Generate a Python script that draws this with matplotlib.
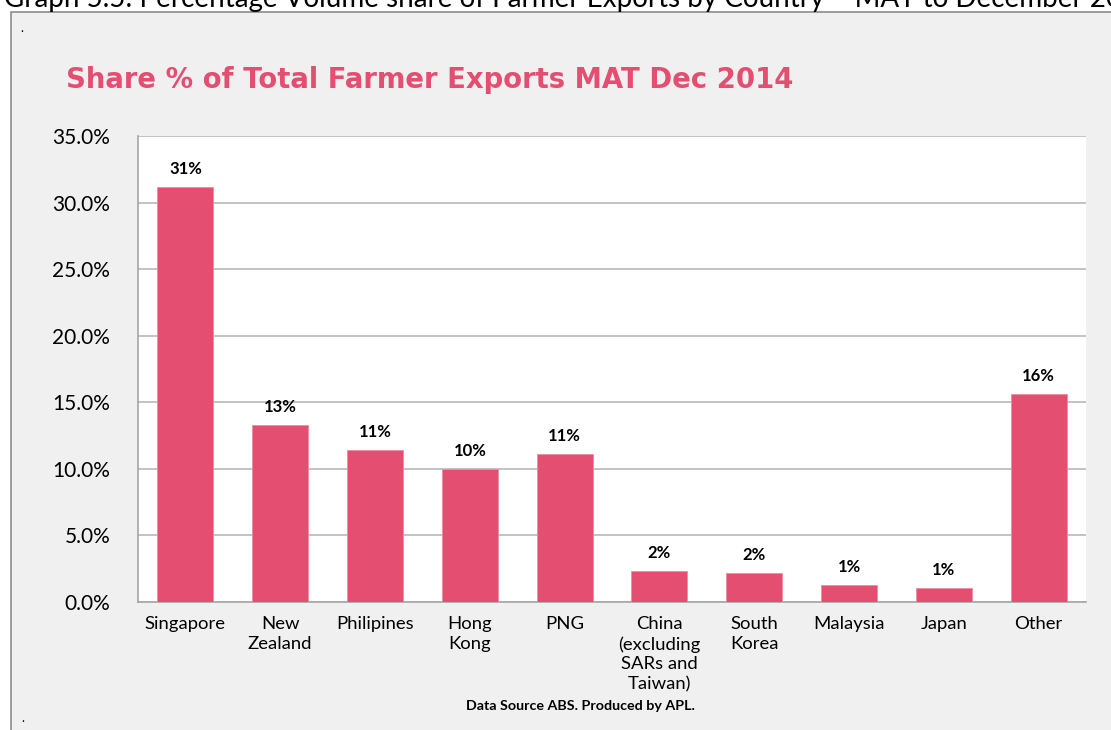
import matplotlib.pyplot as plt
from matplotlib.patches import Rectangle
from matplotlib.ticker import FuncFormatter
import numpy as np

countries = ['Singapore', 'New\nZealand', 'Philipines', 'Hong\nKong', 'PNG',
             'China\n(excluding\nSARs and\nTaiwan)', 'South\nKorea', 'Malaysia', 'Japan', 'Other']
share = [31.2, 13.3, 11.4, 10.0, 11.1, 2.35, 2.2, 1.3, 1.05, 15.6]
labels = ['31%', '13%', '11%', '10%', '11%', '2%', '2%', '1%', '1%', '16%']
yticks = [0, 5, 10, 15, 20, 25, 30, 35]

pink = '#e34e71'
plt.rcParams['font.family'] = ['Lato', 'DejaVu Sans']

fig = plt.figure(figsize=(11.11, 7.3), dpi=100)
fig.patch.set_facecolor('white')

# grey panel with border (runs past the right and bottom edges)
fig.patches.append(Rectangle((11 / 1111, -0.05), 1.2, 1 - 12 / 730 + 0.05,
                             transform=fig.transFigure, facecolor='#f0f0f0',
                             edgecolor='#8c8c8c', linewidth=1.2, zorder=-5))

# caption, cut off at the top of the screenshot
fig.text(0.004, 1 - 7 / 730,
         'Graph 5.5: Percentage Volume share of Farmer Exports by Country \u2013 MAT to December 2014',
         fontsize=20, va='baseline', ha='left', color='black')
fig.text(20 / 1111, 1 - 32 / 730, '.', fontsize=9)
fig.text(21 / 1111, 1 - 722 / 730, '.', fontsize=9)

ax = fig.add_axes([138 / 1111, 1 - 602 / 730, (1086 - 138) / 1111, (602 - 136) / 730])
ax.set_zorder(2)
ax.set_facecolor('white')

x = np.arange(len(countries))
ax.bar(x, share, width=0.59, color=pink, edgecolor='#f08aa0', linewidth=0.6, zorder=3)

for xi, v, lab in zip(x, share, labels):
    ax.text(xi, v + 0.75, lab, ha='center', va='bottom', fontsize=12,
            fontweight='bold', color='black')

ax.set_xlim(-0.5, len(countries) - 0.5)
ax.set_ylim(0, 35)
ax.set_yticks(yticks)
ax.yaxis.set_major_formatter(FuncFormatter(lambda v, p: f'{v:.1f}%'))
ax.set_xticks(x)
ax.set_xticklabels(countries, fontsize=13.3, linespacing=1.3)
ax.tick_params(axis='y', labelsize=15, length=0, pad=20)
ax.tick_params(axis='x', length=0, pad=10)
ax.grid(axis='y', color='#b3b3b3', linewidth=1.1, zorder=0)
ax.set_axisbelow(True)
for s in ['top', 'right']:
    ax.spines[s].set_visible(False)
for s in ['left', 'bottom']:
    ax.spines[s].set_color('#a6a6a6')
    ax.spines[s].set_linewidth(1.2)

fig.text(66 / 1111, 1 - 88 / 730, 'Share % of Total Farmer Exports MAT Dec 2014',
         fontsize=19.8, fontweight='bold', color=pink, va='baseline', ha='left',
         family=['DejaVu Sans'])
fig.text(580 / 1111, 1 - 710 / 730, 'Data Source ABS. Produced by APL.',
         fontsize=10.3, fontweight='bold', ha='center', va='baseline', color='black')

fig.savefig('out.png', dpi=100)
